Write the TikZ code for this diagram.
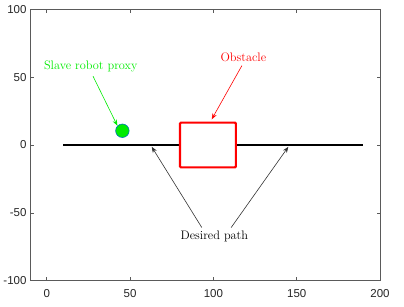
\documentclass[tikz,border=0pt]{standalone}
\usepackage{fontspec}
\setmainfont{Latin Modern Roman}
\newfontfamily\ticksfont{Liberation Sans}
\usetikzlibrary{arrows.meta}
\definecolor{axgray}{RGB}{90,90,90}
\definecolor{tickcol}{RGB}{38,38,38}
\definecolor{brightgreen}{RGB}{0,235,0}
\definecolor{edgeblue}{RGB}{0,114,189}
\tikzset{
  ticklab/.style={font=\ticksfont\fontsize{11.5}{12}\selectfont, text=tickcol, inner sep=0pt},
  annot/.style={font=\fontsize{12.3}{13}\selectfont, inner sep=1pt},
  ptr/.style={line width=0.6pt, shorten <=3pt, -{Stealth[length=6pt,width=4.5pt]}},
  axbox/.style={draw=axgray, line width=0.8pt},
}
\begin{document}
\begin{tikzpicture}[x=1pt,y=1pt]
\useasboundingbox (0,0) rectangle (404,306);
\begin{scope}[shift={(46.7pt,161pt)}, x=1.6667pt, y=1.357pt]
  % axes box
  \draw[axbox] (-10,-100) rectangle (200,100);
  \foreach \t in {0,50,100,150,200} {
    \draw[axgray, line width=0.6pt] (\t,-100) -- ++(0,2.6);
    \draw[axgray, line width=0.6pt] (\t,100) -- ++(0,-2.6);
  }
  \foreach \t in {-100,-50,0,50,100} {
    \draw[axgray, line width=0.6pt] (-10,\t) -- ++(2.1,0);
    \draw[axgray, line width=0.6pt] (200,\t) -- ++(-2.1,0);
  }
  % tick labels
  \node[ticklab, anchor=north] (x0) at (0,-106) {0};
  \node[ticklab, anchor=north] (x50) at (50,-106) {50};
  \node[ticklab, anchor=north] (x100) at (100,-106) {100};
  \node[ticklab, anchor=north] (x150) at (150,-106) {150};
  \node[ticklab, anchor=north] (x200) at (200,-106) {200};
  \node[ticklab, anchor=east] (ym100) at (-12,-100) {-100};
  \node[ticklab, anchor=east] (ym50) at (-12,-50) {-50};
  \node[ticklab, anchor=east] (y0) at (-12,0) {0};
  \node[ticklab, anchor=east] (y50) at (-12,50) {50};
  \node[ticklab, anchor=east] (y100) at (-12,100) {100};
  % desired path
  \coordinate (pathA) at (10,0);
  \coordinate (pathB) at (190,0);
  \draw[black, line width=2.2pt] (pathA) -- (pathB);
  % obstacle
  \draw[red, line width=2.2pt, rounded corners=1pt, fill=white] (80,-16.5) rectangle (113.5,16.5);
  \coordinate (obsTop) at (99,18.9);
  % slave robot proxy
  \node[circle, draw=edgeblue, fill=brightgreen, line width=0.6pt, minimum size=13.5pt, inner sep=0pt] (robot) at (45.4,10.5) {};
  % annotations
  \node[annot, text=brightgreen] (lslave) at (26.4,57.7) {Slave robot proxy};
  \node[annot, text=red] (lobs) at (118,64.6) {Obstacle};
  \node[annot, text=black] (lpath) at (100.6,-67.6) {Desired path};
  \coordinate (pathL) at (63,-1.3);
  \coordinate (pathR) at (145,-1.3);
  \draw[ptr, brightgreen] ([xshift=1pt]lslave.south) -- (robot.north west);
  \draw[ptr, red] (lobs.south) -- (obsTop);
  \draw[ptr, black!80] ([xshift=-11pt]lpath.north) -- (pathL);
  \draw[ptr, black!80] ([xshift=15pt]lpath.north) -- (pathR);
\end{scope}
\end{tikzpicture}
\end{document}
